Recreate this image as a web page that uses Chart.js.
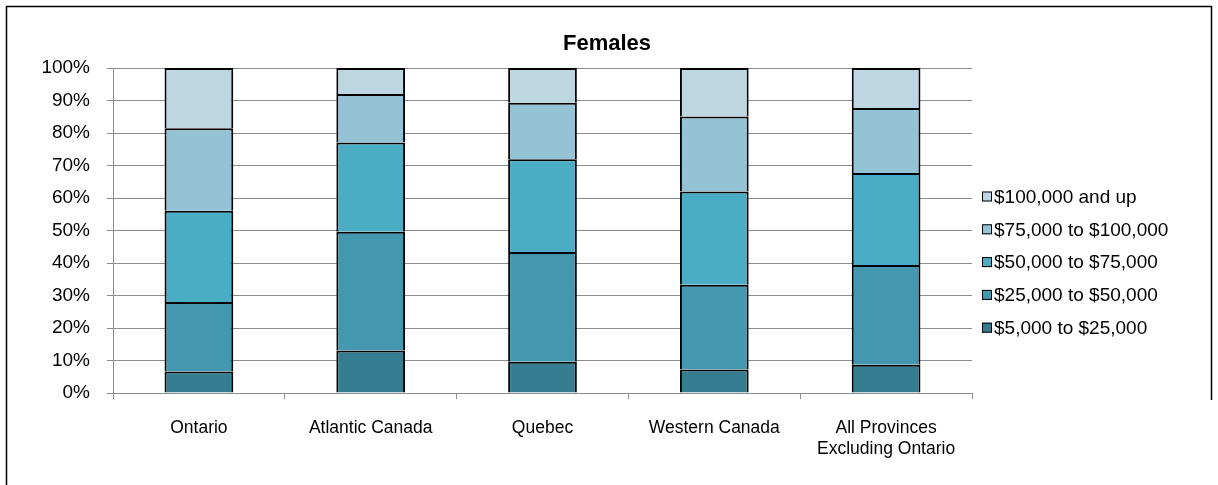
<!DOCTYPE html>
<html>
<head>
<meta charset="utf-8">
<script src="https://cdn.jsdelivr.net/npm/chart.js@4/dist/chart.umd.min.js"></script>
<style>
  html, body { margin: 0; padding: 0; background: #fff; }
  #wrap { width: 1218px; height: 485px; position: relative; }
</style>
</head>
<body>
<div id="wrap"><canvas id="c" width="1218" height="485"></canvas></div>
<script>
// Income distribution of female workers by region (share of each region, %)
const regions = ['Ontario', 'Atlantic Canada', 'Quebec', 'Western Canada', ['All Provinces', 'Excluding Ontario']];
const bandNames = ['$5,000 to $25,000', '$25,000 to $50,000', '$50,000 to $75,000', '$75,000 to $100,000', '$100,000 and up'];
const band5to25 = [6.6, 13.1, 9.6, 7.2, 8.7];
const band25to50 = [21.4, 36.5, 33.8, 26.1, 30.7];
const band50to75 = [28.1, 27.5, 28.5, 28.7, 28.3];
const band75to100 = [25.4, 14.9, 17.4, 23.1, 20.0];
const band100up = [18.5, 8.0, 10.7, 14.9, 12.3];
const percentTicks = [0, 10, 20, 30, 40, 50, 60, 70, 80, 90, 100];
const chartTitle = 'Females';

const bandValues = [band5to25, band25to50, band50to75, band75to100, band100up];
const bandColors = ['#357E92', '#4398AF', '#4BACC6', '#93C3D4', '#BDD7E2'];
const FONT = "'Liberation Sans', Arial, sans-serif";
const GRID = '#8c8c8c';

// Frame, title and legend drawn around the plot
const decorations = {
  id: 'decorations',
  beforeDraw(chart) {
    const ctx = chart.ctx;
    ctx.save();
    ctx.fillStyle = '#fff';
    ctx.fillRect(0, 0, chart.width, chart.height);
    ctx.strokeStyle = '#000';
    ctx.lineWidth = 1.5;
    ctx.beginPath();
    ctx.moveTo(6.5, 485);
    ctx.lineTo(6.5, 6.5);
    ctx.lineTo(1211.5, 6.5);
    ctx.lineTo(1211.5, 400);
    ctx.stroke();
    ctx.restore();
  },
  afterDraw(chart) {
    const ctx = chart.ctx;
    ctx.save();
    // title
    ctx.fillStyle = '#000';
    ctx.font = "bold 22px " + FONT;
    ctx.textAlign = 'center';
    ctx.textBaseline = 'middle';
    ctx.fillText(chartTitle, 607, 44);
    // legend, highest band on top
    ctx.font = "19px " + FONT;
    ctx.textAlign = 'left';
    const ds = chart.data.datasets;
    for (let i = 0; i < ds.length; i++) {
      const d = ds[ds.length - 1 - i];
      const cy = 196.5 + i * 32.8;
      ctx.fillStyle = d.backgroundColor;
      ctx.fillRect(982, cy - 5, 10, 10);
      ctx.strokeStyle = '#000';
      ctx.lineWidth = 1;
      ctx.strokeRect(982.5, cy - 4.5, 9, 9);
      ctx.fillStyle = '#000';
      ctx.fillText(d.label, 994, cy + 1);
    }
    ctx.restore();
  }
};

new Chart(document.getElementById('c'), {
  type: 'bar',
  data: {
    labels: regions,
    datasets: bandNames.map((name, i) => ({
      label: name,
      data: bandValues[i],
      backgroundColor: bandColors[i],
      borderColor: '#000',
      borderWidth: 2,
      barPercentage: 0.4,
      categoryPercentage: 1.0
    }))
  },
  options: {
    responsive: false,
    animation: false,
    devicePixelRatio: 1,
    layout: { padding: { left: 8, right: 246, top: 68, bottom: 0 } },
    plugins: {
      legend: { display: false },
      title: { display: false },
      tooltip: { enabled: false }
    },
    scales: {
      x: {
        stacked: true,
        afterFit(s) { s.height = 92; },
        grid: { display: true, drawOnChartArea: false, drawTicks: true, tickLength: 6, offset: true, color: GRID, lineWidth: 1 },
        border: { display: true, color: GRID, width: 1 },
        ticks: { color: '#000', font: { family: FONT, size: 17.5 }, padding: 19, maxRotation: 0, autoSkip: false }
      },
      y: {
        stacked: true,
        min: 0,
        max: 100,
        afterFit(s) { s.width = 105; },
        afterBuildTicks(s) { s.ticks = percentTicks.map(v => ({ value: v })); },
        grid: { color: GRID, lineWidth: 1, drawTicks: true, tickLength: 6 },
        border: { display: true, color: GRID, width: 1 },
        ticks: { color: '#000', font: { family: FONT, size: 19 }, padding: 17, callback: v => v + '%' }
      }
    }
  },
  plugins: [decorations]
});
</script>
</body>
</html>
